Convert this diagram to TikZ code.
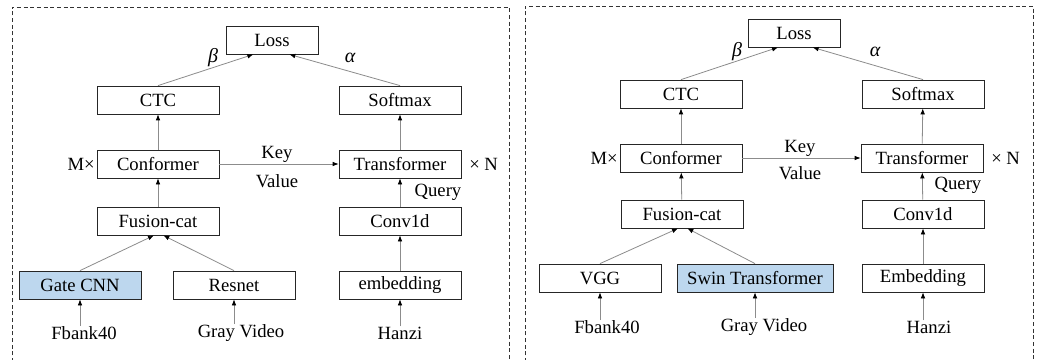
\documentclass[tikz,border=0pt]{standalone}
\usepackage{fontspec}
\setmainfont{Liberation Serif}
\usetikzlibrary{arrows.meta}
\definecolor{boxblue}{HTML}{BDD7EE}
\definecolor{linegray}{HTML}{8C8C8C}
\tikzset{
  blk/.style={draw=black!85, line width=0.6pt, minimum width=91.5pt, minimum height=21pt,
    inner sep=0pt, font=\fontsize{14}{16}\selectfont},
  hl/.style={blk, fill=boxblue},
  lbl/.style={inner sep=0pt, font=\fontsize{14}{16}\selectfont},
  greek/.style={inner sep=0pt, font=\fontsize{15}{17}\selectfont\itshape},
  arr/.style={draw=linegray, line width=0.6pt, -{Latex[length=4.5pt,width=3.5pt,color=black]}},
  frame/.style={draw=black!80, line width=0.6pt, dash pattern=on 3pt off 2pt},
}
\begin{document}
\begin{tikzpicture}[x=0.75pt, y=-0.75pt]
\useasboundingbox (0,0) rectangle (1040,360);
\fill[white] (0,0) rectangle (1040,360);

% panel frames (open at the bottom)
\draw[frame] (12,362) -- (12,7) -- (509,7) -- (509,362);
\draw[frame] (525,362) -- (525,6) -- (1033,6) -- (1033,362);

% ---------- left model: Gate CNN + Resnet ----------
\node[blk, minimum width=69pt] (lloss) at (272,40) {Loss};
\node[blk] (lctc) at (158,100) {CTC};
\node[blk] (lsoft) at (400,100) {Softmax};
\node[blk] (lconf) at (158,164) {Conformer};
\node[blk] (ltrans) at (400,164) {Transformer};
\node[blk] (lfus) at (158,221) {Fusion-cat};
\node[blk] (lconv) at (400,221) {Conv1d};
\node[hl] (lgate) at (80,285) {Gate CNN};
\node[blk] (lres) at (234,285) {Resnet};
\node[blk] (lemb) at (400,285) {embedding};
\node[lbl] (lfb) at (84,333) {Fbank40};
\node[lbl] (lgv) at (241,333) {Gray Video};
\node[lbl] (lhz) at (400,333) {Hanzi};
\node[lbl, anchor=east] (lm) at (95,164) {M×};
\node[lbl, anchor=west] (ln) at (469,164) {× N};
\node[lbl] (lkey) at (277,154) {Key};
\node[lbl] (lval) at (277,181) {Value};
\node[lbl] (lq) at (438,192) {Query};
\node[greek] (lb) at (213,58) {β};
\node[greek] (la) at (350,58) {α};

\draw[arr] (lctc.north) -- ([xshift=-14]lloss.south);
\draw[arr] (lsoft.north) -- ([xshift=13]lloss.south);
\draw[arr] (lconf) -- (lctc);
\draw[arr] (ltrans) -- (lsoft);
\draw[arr] (lconf) -- (ltrans);
\draw[arr] (lfus) -- (lconf);
\draw[arr] (lconv) -- (ltrans);
\draw[arr] (lemb) -- (lconv);
\draw[arr] (lgate.north) -- ([xshift=-3]lfus.south);
\draw[arr] (lres.north) -- ([xshift=4]lfus.south);
\draw[arr] (lgate.south |- lfb.north) -- (lgate.south);
\draw[arr] (lres.south |- lgv.north) -- (lres.south);
\draw[arr] (lemb.south |- lhz.north) -- (lemb.south);

% ---------- right model: VGG + Swin Transformer ----------
\node[blk, minimum width=69pt] (rloss) at (794,33) {Loss};
\node[blk] (rctc) at (681,94) {CTC};
\node[blk] (rsoft) at (923,94) {Softmax};
\node[blk] (rconf) at (681,158) {Conformer};
\node[blk] (rtrans) at (922,158) {Transformer};
\node[blk] (rfus) at (682,214) {Fusion-cat};
\node[blk] (rconv) at (923,214) {Conv1d};
\node[blk] (rvgg) at (600,278) {VGG};
\node[hl, minimum width=117pt] (rswin) at (755,278) {Swin Transformer};
\node[blk] (remb) at (923,278) {Embedding};
\node[lbl] (rfb) at (607,327) {Fbank40};
\node[lbl] (rgv) at (764,327) {Gray Video};
\node[lbl] (rhz) at (929,327) {Hanzi};
\node[lbl, anchor=east] (rm) at (618,158) {M×};
\node[lbl, anchor=west] (rn) at (991,158) {× N};
\node[lbl] (rkey) at (800,148) {Key};
\node[lbl] (rval) at (800,173) {Value};
\node[lbl] (rq) at (958,185) {Query};
\node[greek] (rb) at (737,52) {β};
\node[greek] (ra) at (875,52) {α};

\draw[arr] (rctc.north) -- ([xshift=-12]rloss.south);
\draw[arr] (rsoft.north) -- ([xshift=14]rloss.south);
\draw[arr] (rconf) -- (rctc);
\draw[arr] (rtrans) -- (rsoft);
\draw[arr] (rconf) -- (rtrans);
\draw[arr] (rfus) -- (rconf);
\draw[arr] (rconv) -- (rtrans);
\draw[arr] (remb) -- (rconv);
\draw[arr] (rvgg.north) -- ([xshift=-3]rfus.south);
\draw[arr] (rswin.north) -- ([xshift=4]rfus.south);
\draw[arr] (rvgg.south |- rfb.north) -- (rvgg.south);
\draw[arr] (rswin.south |- rgv.north) -- (rswin.south);
\draw[arr] (remb.south |- rhz.north) -- (remb.south);
\end{tikzpicture}
\end{document}
